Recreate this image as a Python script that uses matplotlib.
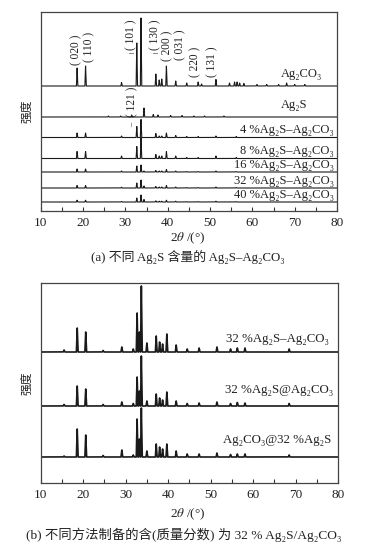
import numpy as np
import matplotlib
matplotlib.use('Agg')
import matplotlib.pyplot as plt
from matplotlib.ticker import MultipleLocator

plt.rcParams['font.family'] = ['Liberation Serif', 'DejaVu Serif', 'Noto Sans CJK SC']
plt.rcParams['mathtext.fontset'] = 'stix'

# ---- data (peak position in 2theta, height in px) ----
# top panel
ag2co3_pos = [18.6, 20.6, 29.1, 32.7, 33.7, 37.2, 38.0, 38.6, 39.7, 41.9, 44.5, 47.2,
              48.0, 51.4, 54.6, 55.8, 56.4, 57.0, 58.0, 61.1, 63.4, 66.2, 68.1, 70.0, 72.4]
ag2co3_h = [18, 20, 3.5, 43, 68, 12, 6, 7, 20, 5, 3, 4,
            2, 6.5, 3, 4, 4, 3, 2.5, 1.5, 1.5, 1.5, 3, 1.5, 1.5]

ag2s_pos = [26.0, 28.9, 31.5, 34.4, 36.6, 37.7, 40.7, 43.4, 46.2, 48.7, 53.3]
ag2s_h = [1, 1, 2, 9, 2.5, 2, 1.5, 1.5, 1, 1, 1]

mix_pos = [18.6, 20.6, 29.1, 32.7, 33.7, 34.4, 37.2, 38.0, 38.6, 39.7, 41.9, 44.5, 47.2, 51.4, 56.2]
mix4_h = [4.5, 4.5, 1.5, 11, 18, 0, 4, 1.5, 1.5, 4.5, 2, 1, 1, 1.5, 1]
mix8_h = [7, 7, 2.5, 12, 21, 0, 4, 2.5, 2.5, 7, 2.5, 1, 1, 2.5, 1]
mix16_h = [3, 3, 1, 6, 7, 1, 1.5, 1, 1, 2.5, 1, 0.5, 0.5, 1, 0.5]
mix32_h = [2.5, 2.5, 0.8, 5, 8, 2, 1.5, 1, 1, 2.5, 1, 0.5, 0.5, 1, 0.5]
mix40_h = [1.8, 1.8, 0.6, 4, 7, 2.5, 1.2, 0.8, 0.8, 1.8, 0.8, 0.4, 0.4, 0.8, 0.4]

top_names = ['Ag₂CO₃', 'Ag₂S', '4 %Ag₂S–Ag₂CO₃', '8 %Ag₂S–Ag₂CO₃',
             '16 %Ag₂S–Ag₂CO₃', '32 %Ag₂S–Ag₂CO₃', '40 %Ag₂S–Ag₂CO₃']

hkl_labels = ['( 020 )', '( 110 )', '( 101 )', '( 130 )', '( 200 )', '( 031 )', '( 220 )', '( 131 )', '( 121 )']
hkl_x = [18.35, 21.4, 31.3, 37.0, 39.8, 42.9, 46.5, 50.5, 31.6]

# bottom panel
b_pos = [15.5, 18.6, 20.6, 24.7, 29.1, 31.8, 32.7, 33.25, 33.7, 35.0, 37.2, 38.0, 38.7,
         39.7, 41.9, 44.5, 47.3, 51.5, 54.7, 56.3, 58.1, 68.5]
b1_h = [2, 24, 20, 1.5, 5, 3, 39, 20, 66, 9, 16, 10, 8, 18, 7, 3, 4, 5, 3, 4, 4, 3]
b2_h = [1.5, 20, 17, 1.5, 4, 2.5, 29, 15, 50, 5, 12, 8, 6, 14, 5, 2.5, 3, 4, 2.5, 3.5, 3, 2.5]
b3_h = [1, 28, 22, 1.5, 7, 2, 38, 18, 49, 6, 13, 10, 8, 13, 6, 3, 3, 4, 2.5, 3, 3, 2]
bot_names = ['32 %Ag₂S–Ag₂CO₃', '32 %Ag₂S@Ag₂CO₃', 'Ag₂CO₃@32 %Ag₂S']

xgrid = np.arange(10, 80.001, 0.01)


def profile(pos, h, w):
    # sum of narrow triangular peaks
    y = np.zeros_like(xgrid)
    for p, a in zip(pos, h):
        y += a * np.clip(1 - np.abs(xgrid - p) / w, 0, None)
    return y


def style_axis(ax, ymax):
    ax.set_xlim(10, 80)
    ax.set_ylim(0, ymax)
    ax.set_yticks([])
    ax.xaxis.set_major_locator(MultipleLocator(10))
    ax.xaxis.set_minor_locator(MultipleLocator(5))
    ax.tick_params(axis='x', which='both', direction='in', length=3, width=0.8,
                   labelsize=9.5, pad=4, colors='#333333', labelcolor='#222222')
    for s in ax.spines.values():
        s.set_color('#444444')
        s.set_linewidth(0.9)


fig = plt.figure(figsize=(3.66, 5.48), dpi=100)
ax1 = fig.add_axes([40.7 / 366, 1 - 211 / 548, (337 - 40.7) / 366, 199 / 548])
ax2 = fig.add_axes([40.7 / 366, 1 - 483 / 548, (338 - 40.7) / 366, 200 / 548])

# top panel traces
top_series = [(ag2co3_pos, ag2co3_h), (ag2s_pos, ag2s_h), (mix_pos, mix4_h), (mix_pos, mix8_h),
              (mix_pos, mix16_h), (mix_pos, mix32_h), (mix_pos, mix40_h)]
top_base = [125, 94, 73.5, 52.5, 39, 23, 9]
top_lab_y = [134, 102.7, 77.5, 57, 42.7, 27, 12.7]
top_lab_x = [76.6, 72.9, 79.2, 79.2, 79.2, 79.2, 79.2]
for (pos, h), b in zip(top_series, top_base):
    ax1.plot(xgrid, profile(pos, h, 0.16) + b, color='#1a1a1a', lw=0.8)
for name, lx, ly in zip(top_names, top_lab_x, top_lab_y):
    ax1.text(lx, ly, name, ha='right', va='baseline', fontsize=9, color='#222222')

hkl_y = [146, 149, 161, 161, 150, 151, 134, 134, 94]
for lab, hx, hy in zip(hkl_labels, hkl_x, hkl_y):
    ax1.text(hx, hy, lab, rotation=90, ha='center', va='bottom', fontsize=8.3,
             color='#222222')
# bars of the negative indices
for hx in [31.3, 37.0]:
    ax1.text(hx, 157.5, '–', ha='center', va='center', fontsize=7, color='#222222')
ax1.text(31.6, 86, '–', rotation=90, ha='center', va='center', fontsize=6, color='#222222')
style_axis(ax1, 199)

# bottom panel traces
bot_series = [b1_h, b2_h, b3_h]
bot_base = [131, 77, 26]
bot_lab_y = [141, 89.7, 40.3]
bot_lab_x = [77.8, 78.8, 78.3]
for h, b in zip(bot_series, bot_base):
    ax2.plot(xgrid, profile(b_pos, h, 0.2) + b, color='#1a1a1a', lw=1.2)
for name, lx, ly in zip(bot_names, bot_lab_x, bot_lab_y):
    ax2.text(lx, ly, name, ha='right', va='baseline', fontsize=9.3, color='#222222')
style_axis(ax2, 200)

# axis titles and captions
for yc in [111, 383]:
    fig.text(27 / 366, 1 - yc / 548, '强度', rotation=90, ha='center', va='center',
             fontsize=8.5, color='#222222')
for yc in [238, 514]:
    fig.text(188 / 366, 1 - yc / 548, '2$\\theta$ /(°)', ha='center', va='center',
             fontsize=9.5, color='#222222')
fig.text(188 / 366, 1 - 257 / 548, '(a) 不同 Ag₂S 含量的 Ag₂S–Ag₂CO₃',
         ha='center', va='center', fontsize=9.3, color='#222222')
fig.text(184 / 366, 1 - 535 / 548, '(b) 不同方法制备的含(质量分数) 为 32 % Ag₂S/Ag₂CO₃',
         ha='center', va='center', fontsize=9.6, color='#222222')

fig.savefig('out.png', dpi=100)
